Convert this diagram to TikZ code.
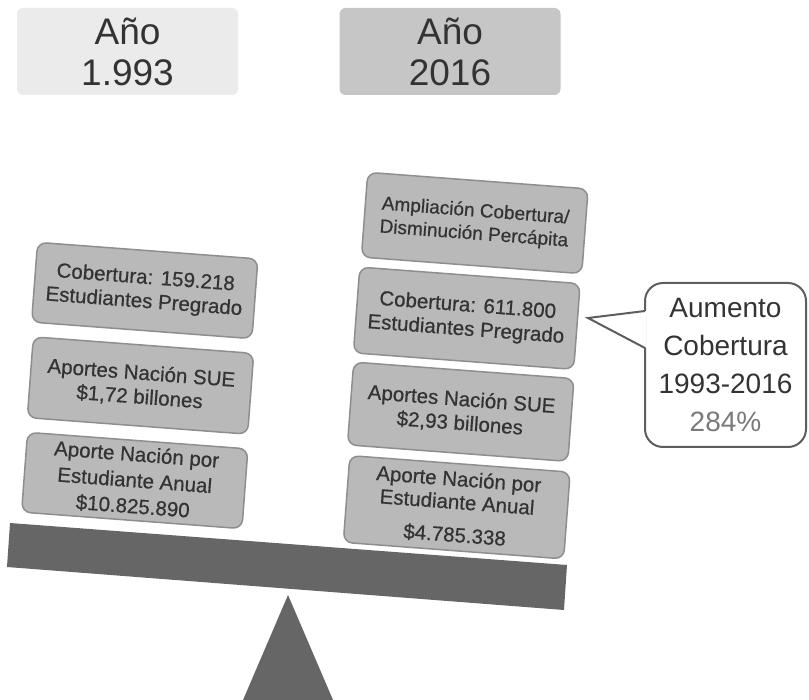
\documentclass[tikz,border=0pt]{standalone}
\usepackage{fontspec}
\setmainfont{Liberation Sans}
\newfontfamily\boxfont{Liberation Sans}[FakeBold=0.6]
\definecolor{txt}{HTML}{333333}
\definecolor{topA}{HTML}{EBEBEB}
\definecolor{topB}{HTML}{C6C6C6}
\definecolor{boxfill}{HTML}{B9B9B9}
\definecolor{boxline}{HTML}{8E8E8E}
\definecolor{beamcol}{HTML}{666666}
\definecolor{callline}{HTML}{5E5E5E}
\definecolor{pct}{HTML}{7A7A7A}
\begin{document}
\begin{tikzpicture}[x=1pt,y=-1pt,
  yearbox/.style={rounded corners=6pt, minimum width=221pt, minimum height=87pt,
    align=center, text=txt, font=\fontsize{37}{41}\selectfont, inner sep=0pt},
  databox/.style={draw=boxline, line width=1.5pt, fill=boxfill, rounded corners=9pt,
    minimum width=221pt, align=center, text=txt, rotate=-4.3, inner sep=0pt,
    font=\boxfont\fontsize{20.5}{24}\selectfont},
  calloutbox/.style={draw=callline, line width=2pt, fill=white, rounded corners=18pt,
    minimum width=161pt, minimum height=164pt, align=center, text=txt,
    font=\fontsize{28}{38}\selectfont, inner sep=0pt},
  beamshape/.style={fill=beamcol}
]
\useasboundingbox (0,0) rectangle (809,700);

% year labels
\node[yearbox, fill=topA] (y1) at (127.5,51.5) {Año\\1.993};
\node[yearbox, fill=topB] (y2) at (450,51.5) {Año\\2016};

% beam and fulcrum
\fill[beamshape] (10,523) -- (567,565) -- (564,610) -- (7,567) -- cycle;
\fill[beamshape] (288,595) -- (333,700) -- (243,700) -- cycle;

% left column
\node[databox, minimum height=80pt] (l1) at (144.75,290.5) {Cobertura: 159.218\\Estudiantes Pregrado};
\node[databox, minimum height=81pt] (l2) at (140.5,385.5) {Aportes Nación SUE\\\$1,72 billones};
\node[databox, minimum height=80pt, font=\boxfont\fontsize{20.5}{26}\selectfont] (l3) at (134.75,480.5) {Aporte Nación por\\Estudiante Anual\\\$10.825.890};

% right column
\node[databox, minimum height=85pt, font=\boxfont\fontsize{19}{23}\selectfont] (r1) at (474.75,223) {Ampliación Cobertura/\\Disminución Percápita};
\node[databox, minimum height=86pt] (r2) at (466.75,318.25) {Cobertura: 611.800\\Estudiantes Pregrado};
\node[databox, minimum height=83pt] (r3) at (460.75,411.75) {Aportes Nación SUE\\\$2,93 billones};
\node[databox, minimum height=87pt, font=\boxfont\fontsize{20.5}{23}\selectfont] (r4) at (456.75,507.25) {Aporte Nación por\\Estudiante Anual\\[10pt]\$4.785.338};

% callout
\node[calloutbox] (cb) at (725.5,365) {Aumento\\Cobertura\\1993-2016\\\textcolor{pct}{284\%}};
\coordinate (tip) at (588,318);
\coordinate (pa) at (645,311);
\coordinate (pb) at (645,348);
\fill[white] (tip) -- (646.5,311) -- (646.5,348) -- cycle;
\draw[callline, line width=2pt, line join=miter] (pa) -- (tip) -- (pb);
\end{tikzpicture}
\end{document}
